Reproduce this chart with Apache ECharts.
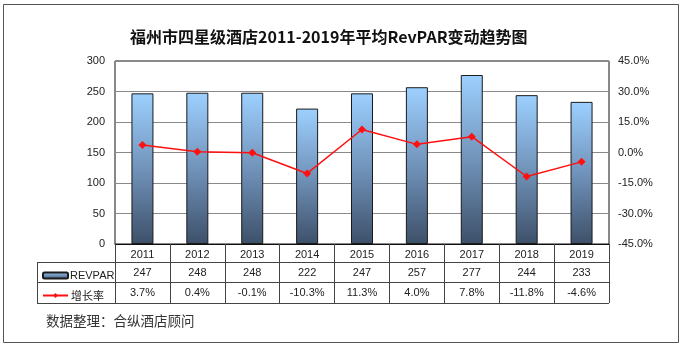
<!DOCTYPE html>
<html>
<head>
<meta charset="utf-8">
<script src="https://cdn.jsdelivr.net/npm/echarts@6/dist/echarts.min.js"></script>
<style>
  html, body { margin: 0; padding: 0; background: #fff; }
  #chart { width: 684px; height: 348px; }
</style>
</head>
<body>
<div id="chart"></div>
<script>
// Fuzhou four-star hotels: average RevPAR and year-on-year growth
const years = ['2011', '2012', '2013', '2014', '2015', '2016', '2017', '2018', '2019'];
const revpar = [247, 248, 248, 222, 247, 257, 277, 244, 233];
const growth = [3.7, 0.4, -0.1, -10.3, 11.3, 4.0, 7.8, -11.8, -4.6];
const leftTicks = { min: 0, max: 300, interval: 50 };
const rightTicks = { min: -45, max: 45, interval: 15 };

const chart = echarts.init(document.getElementById('chart'));

const LINE = '#444';
const FONT = 'Liberation Sans, Arial, sans-serif';
const CJK = '"Noto Sans CJK SC", sans-serif';
const FS = 11;

// table row positions (below the plot)
const gridL = 115, gridR = 609, gridB = 244;
const row1 = 262, row2 = 282, row3 = 303, tableL = 37;

function fmtPct(v) { return v.toFixed(1) + '%'; }

const tableAxis = (offset, fmt) => ({
  type: 'category',
  data: years,
  position: 'bottom',
  offset: offset,
  gridIndex: 0,
  axisLine: { show: false },
  axisTick: { show: false },
  axisLabel: { interval: 0, margin: 5, color: '#222', fontSize: FS, fontFamily: FONT, formatter: fmt }
});

chart.setOption({
  animation: false,
  title: {
    text: '福州市四星级酒店2011-2019年平均RevPAR变动趋势图',
    left: 125, top: 24,
    textStyle: { fontFamily: CJK, fontWeight: 'bold', fontSize: 16, color: '#111' }
  },
  legend: [
    {
      data: [{ name: 'REVPAR', icon: 'roundRect' }],
      left: 37, top: 265, itemWidth: 25, itemHeight: 6,
      textStyle: { fontFamily: FONT, fontSize: FS, color: '#222', padding: [0, 0, 0, -3] },
      selectedMode: false
    },
    {
      data: ['增长率'],
      left: 37, top: 285, itemWidth: 25, itemHeight: 6,
      textStyle: { fontFamily: CJK, fontSize: FS, color: '#222', padding: [0, 0, 0, -2] },
      selectedMode: false
    }
  ],
  grid: {
    left: gridL, right: 684 - gridR, top: 61, bottom: 348 - gridB,
    show: true, borderColor: '#111', borderWidth: 1
  },
  xAxis: [
    {
      type: 'category',
      data: years,
      axisLine: { show: true, lineStyle: { color: '#111' } },
      axisTick: { show: true, length: row3 - gridB, interval: 0, lineStyle: { color: LINE } },
      axisLabel: { interval: 0, margin: 5, color: '#222', fontSize: FS, fontFamily: FONT }
    },
    tableAxis(row1 - gridB, (v, i) => String(revpar[i])),
    tableAxis(row2 - gridB, (v, i) => fmtPct(growth[i]))
  ],
  yAxis: [
    {
      type: 'value',
      min: leftTicks.min, max: leftTicks.max, interval: leftTicks.interval,
      axisLine: { show: false }, axisTick: { show: false },
      axisLabel: { color: '#222', fontSize: FS, fontFamily: FONT, margin: 10 },
      splitLine: { lineStyle: { color: '#8a8a8a' } }
    },
    {
      type: 'value',
      min: rightTicks.min, max: rightTicks.max, interval: rightTicks.interval,
      axisLine: { show: false }, axisTick: { show: false },
      axisLabel: { color: '#222', fontSize: FS, fontFamily: FONT, margin: 9, formatter: fmtPct },
      splitLine: { show: false }
    }
  ],
  series: [
    {
      name: 'REVPAR',
      type: 'bar',
      data: revpar,
      barWidth: 22,
      itemStyle: {
        color: new echarts.graphic.LinearGradient(0, 0, 0, 1, [
          { offset: 0, color: '#9dd0ff' },
          { offset: 0.5, color: '#7193ba' },
          { offset: 1, color: '#3d5069' }
        ]),
        borderColor: '#1a1a1a', borderWidth: 1
      }
    },
    {
      name: '增长率',
      type: 'line',
      yAxisIndex: 1,
      data: growth,
      symbol: 'diamond',
      symbolSize: 8,
      lineStyle: { color: '#ff1010', width: 1.5 },
      itemStyle: { color: '#ff1010' }
    }
  ],
  graphic: [
    // outer frame
    { type: 'rect', shape: { x: 3.5, y: 4.5, width: 675, height: 338 }, style: { fill: 'none', stroke: '#555', lineWidth: 1 }, silent: true },
    // table rules
    { type: 'line', shape: { x1: tableL, y1: row1 + 0.5, x2: gridR, y2: row1 + 0.5 }, style: { stroke: LINE, lineWidth: 1 } },
    { type: 'line', shape: { x1: tableL, y1: row2 + 0.5, x2: gridR, y2: row2 + 0.5 }, style: { stroke: LINE, lineWidth: 1 } },
    { type: 'line', shape: { x1: tableL, y1: row3 + 0.5, x2: gridR, y2: row3 + 0.5 }, style: { stroke: LINE, lineWidth: 1 } },
    { type: 'line', shape: { x1: tableL + 0.5, y1: row1, x2: tableL + 0.5, y2: row3 }, style: { stroke: LINE, lineWidth: 1 } },
    // source note
    { type: 'text', left: 46, top: 314, style: { text: '数据整理：合纵酒店顾问', font: '13.5px "Noto Sans CJK SC", sans-serif', fill: '#333' } }
  ]
});
</script>
</body>
</html>
